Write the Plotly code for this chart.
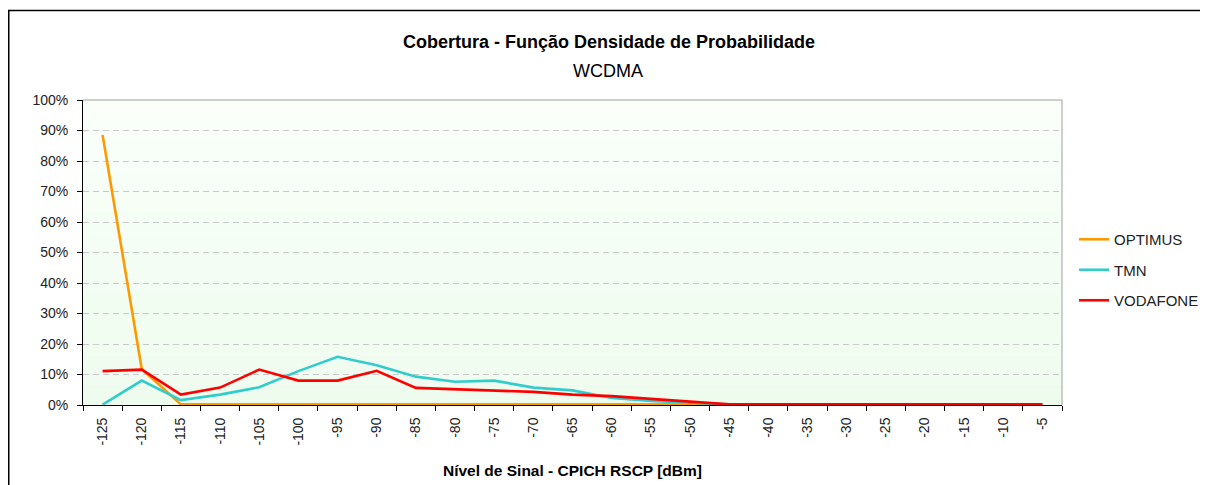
import plotly.graph_objs as go

# nivel de sinal (dBm)
nivel = list(range(-125, 0, 5))

# densidade de probabilidade (%)
optimus = [88.5, 11.8, 0.2, 0.2, 0.2, 0.2, 0.2, 0.2, 0.2, 0.2, 0.2, 0.2, 0.2,
           0.2, 0.2, 0.2, 0.2, 0.2, 0.2, 0.2, 0.2, 0.2, 0.2, 0.2, 0.2]
tmn = [0.1, 8.0, 1.6, 3.4, 5.8, 11.1, 15.8, 13.0, 9.3, 7.6, 8.0, 5.7, 4.8,
       2.3, 1.3, 0.7, 0.2, 0.2, 0.2, 0.2, 0.2, 0.2, 0.2, 0.2, 0.2]
vodafone = [11.1, 11.6, 3.4, 5.7, 11.6, 8.0, 8.0, 11.2, 5.6, 5.2, 4.7, 4.3, 3.4,
            2.9, 2.0, 1.1, 0.2, 0.2, 0.2, 0.2, 0.2, 0.2, 0.2, 0.2, 0.2]

series = [('OPTIMUS', optimus, '#FF9900'),
          ('TMN', tmn, '#33CCCC'),
          ('VODAFONE', vodafone, '#FF0000')]

# a pagina tem margem de 8px -> coordenadas da figura = ecra - 8
W, H = 1208, 485
L, R, T, B = 75, 154, 92, 88
PW, PH = W - L - R, H - T - B
FONT = 'Liberation Sans, Arial, sans-serif'


def px(x):
    return (x - L) / PW


def py(y):
    return (H - B - y) / PH


x_cat = [str(v) for v in nivel]

fig = go.Figure()
for name, vals, color in series:
    fig.add_trace(go.Scatter(
        x=x_cat,
        y=[v / 100 for v in vals],
        mode='lines',
        line=dict(color=color, width=2.6),
        name=name,
        legendgroup=name,
        cliponaxis=False
    ))

# fundo da area do grafico (degrade branco -> verde claro)
shapes = []
n = 30
for i in range(n):
    t = i / (n - 1)
    r = int(round(250 - t * (250 - 238)))
    g = int(round(255 - t * (255 - 252)))
    b = int(round(250 - t * (250 - 238)))
    shapes.append(dict(type='rect', xref='x domain', yref='y domain',
                       x0=0, x1=1, y0=1 - (i + 1) / n, y1=1 - i / n,
                       fillcolor='rgb(%d,%d,%d)' % (r, g, b),
                       line=dict(width=0), layer='below'))
# bordas cinzentas (topo e direita)
shapes.append(dict(type='line', xref='x domain', yref='y domain',
                   x0=0, x1=1, y0=1, y1=1, line=dict(color='#A0A0A0', width=1)))
shapes.append(dict(type='line', xref='x domain', yref='y domain',
                   x0=1, x1=1, y0=0, y1=1, line=dict(color='#A0A0A0', width=1)))
# moldura exterior
shapes.append(dict(type='rect', xref='paper', yref='paper',
                   x0=px(0.75), x1=px(1193.5),
                   y0=py(H + 20), y1=py(2.5),
                   line=dict(color='black', width=1.5)))

annotations = [
    dict(text='<b>Cobertura - Função Densidade de Probabilidade</b>',
         xref='paper', yref='paper', x=px(601), y=py(34),
         showarrow=False, font=dict(size=18, color='black', family=FONT),
         xanchor='center', yanchor='middle'),
    dict(text='WCDMA',
         xref='paper', yref='paper', x=px(600), y=py(63),
         showarrow=False, font=dict(size=18, color='black', family=FONT),
         xanchor='center', yanchor='middle'),
    dict(text='<b>Nível de Sinal - CPICH RSCP [dBm]</b>',
         xref='paper', yref='paper', x=0.5, y=py(462),
         showarrow=False, font=dict(size=15.5, color='black', family=FONT),
         xanchor='center', yanchor='middle'),
]

fig.update_layout(
    width=W, height=H,
    autosize=False,
    margin=dict(l=L, r=R, t=T, b=B),
    paper_bgcolor='white',
    plot_bgcolor='rgba(0,0,0,0)',
    font=dict(family=FONT, size=14, color='#222222'),
    shapes=shapes,
    annotations=annotations,
    showlegend=True,
    legend=dict(x=px(1066), y=py(262),
                xanchor='left', yanchor='middle',
                font=dict(size=15, color='#222222', family=FONT),
                tracegroupgap=8, bgcolor='rgba(0,0,0,0)')
)

fig.update_xaxes(
    type='category',
    range=[-0.5, len(nivel) - 0.5],
    tickangle=-90,
    tickson='boundaries',
    ticks='outside', ticklen=5, tickcolor='black',
    showline=True, linecolor='black', linewidth=1,
    showgrid=False, zeroline=False,
    layer='below traces',
    ticklabelstandoff=6,
    tickfont=dict(size=14, color='#222222', family=FONT)
)
fig.update_yaxes(
    range=[0, 1],
    dtick=0.1,
    tickformat='.0%',
    ticks='outside', ticklen=5, tickcolor='black',
    showline=True, linecolor='black', linewidth=1,
    showgrid=True, gridcolor='#C8C8C8', griddash='6px,4px', gridwidth=1,
    zeroline=False,
    layer='below traces',
    ticklabelstandoff=6,
    tickfont=dict(size=14, color='#222222', family=FONT)
)

fig.write_html("out.html")
